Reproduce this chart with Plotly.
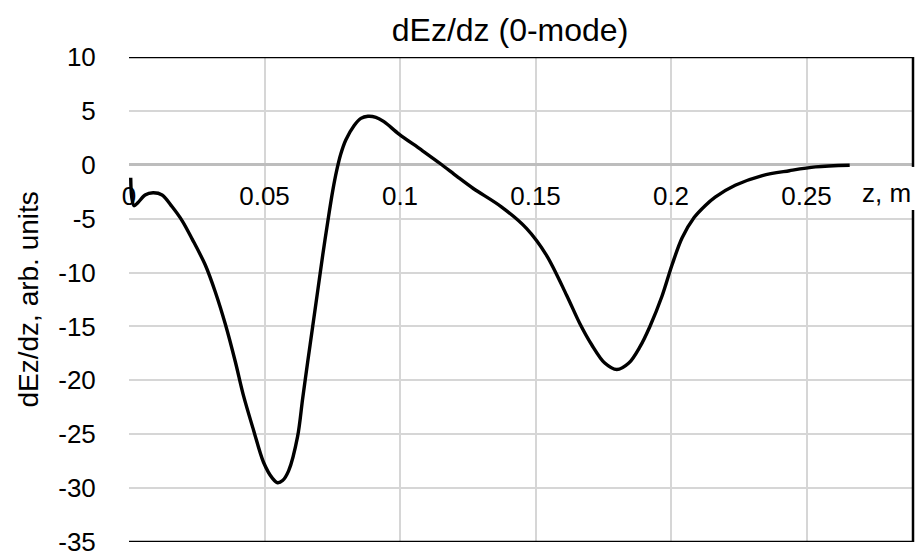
import plotly.graph_objects as go

# Longitudinal position along the structure, m
z_m = [0.00063, 0.0010, 0.00185, 0.00333, 0.00593, 0.00889, 0.01222, 0.01593,
       0.01963, 0.02333, 0.02815, 0.03185, 0.03556, 0.03926, 0.04222, 0.04593,
       0.04963, 0.05296, 0.05481, 0.05667, 0.05889, 0.06222, 0.06407, 0.06593,
       0.06778, 0.06963, 0.07148, 0.07333, 0.07519, 0.07667, 0.07815, 0.08000,
       0.08296, 0.08556, 0.08815, 0.09111, 0.09407, 0.09963, 0.10778, 0.11519,
       0.12111, 0.12704, 0.13741, 0.14667, 0.15407, 0.16148, 0.16630, 0.17074,
       0.17556, 0.18000, 0.18444, 0.18852, 0.19222, 0.19667, 0.20037, 0.20407,
       0.20852, 0.21259, 0.21630, 0.22370, 0.23370, 0.24370, 0.25333, 0.26593]

# Field derivative dEz/dz, arbitrary units
dEz_dz = [-1.2, -3.0, -3.8, -3.5, -2.8, -2.6, -2.8, -3.9,
          -5.2, -6.9, -9.3, -11.8, -14.8, -18.3, -21.4, -24.6,
          -27.6, -29.1, -29.5, -29.3, -28.4, -25.2, -21.7, -18.3,
          -15.0, -11.7, -8.4, -5.3, -2.4, -0.5, 1.0, 2.3,
          3.6, 4.3, 4.5, 4.4, 4.0, 2.85, 1.4, 0.05,
          -1.1, -2.2, -3.9, -5.9, -8.4, -12.1, -14.7, -16.7,
          -18.4, -19.0, -18.4, -16.9, -15.0, -12.2, -9.3, -6.8,
          -4.9, -3.8, -3.0, -1.9, -1.0, -0.55, -0.2, -0.05]

x_ticks = [0, 0.05, 0.1, 0.15, 0.2, 0.25]
x_tick_text = ["0", "0.05", "0.1", "0.15", "0.2", "0.25"]
y_ticks = [10, 5, 0, -5, -10, -15, -20, -25, -30, -35]
y_tick_text = ["10", "5", "0", "-5", "-10", "-15", "-20", "-25", "-30", "-35"]

X_MAX = 0.2893
Y_MIN, Y_MAX = -35, 10

FONT = "Liberation Sans, Arial, sans-serif"
GRID = "#d6d6d6"

fig = go.Figure()
fig.add_trace(go.Scatter(
    x=z_m, y=dEz_dz, mode="lines",
    line=dict(color="black", width=3.4, shape="spline", smoothing=0.9),
    hoverinfo="skip", showlegend=False,
))

fig.update_layout(
    width=919, height=556,
    margin=dict(l=129, r=6, t=57, b=14),
    paper_bgcolor="white", plot_bgcolor="white",
    font=dict(family=FONT, size=26, color="black"),
    title=dict(text="dEz/dz (0-mode)", x=0.555, xanchor="center",
               y=0.947, yanchor="middle",
               font=dict(family=FONT, size=32, color="black")),
    xaxis=dict(
        range=[0, X_MAX], tickvals=x_ticks, ticktext=x_tick_text,
        showgrid=True, gridcolor=GRID, gridwidth=1.5,
        zeroline=False, showline=False, automargin=False,
        anchor="free", position=(0 - Y_MIN) / (Y_MAX - Y_MIN),
        ticks="outside", ticklen=8, tickcolor="rgba(0,0,0,0)",
        tickfont=dict(family=FONT, size=26, color="black"),
    ),
    yaxis=dict(
        range=[Y_MIN, Y_MAX], tickvals=y_ticks, ticktext=y_tick_text,
        showgrid=True, gridcolor=GRID, gridwidth=1.5,
        zeroline=True, zerolinecolor="#bdbdbd", zerolinewidth=2.5,
        showline=False, ticklabeloverflow="allow", automargin=False,
        ticks="outside", ticklen=27, tickcolor="rgba(0,0,0,0)",
        tickfont=dict(family=FONT, size=26, color="black"),
    ),
)

# Vertical axis title
fig.add_annotation(text="dEz/dz, arb. units", xref="paper", yref="paper",
                   x=-0.1288, y=0.5, xanchor="center", yanchor="middle",
                   textangle=-90, showarrow=False,
                   font=dict(family=FONT, size=28, color="black"))

# Black frame: top, bottom and right edge (the right edge is broken by the axis label)
frame = dict(color="black", width=2.5)
fig.add_shape(type="line", xref="x domain", yref="y", x0=0, x1=1, y0=Y_MAX, y1=Y_MAX, line=frame)
fig.add_shape(type="line", xref="x domain", yref="y", x0=0, x1=1, y0=Y_MIN, y1=Y_MIN, line=frame)
fig.add_shape(type="line", xref="x domain", yref="y", x0=1, x1=1, y0=Y_MAX, y1=-0.2, line=frame)
fig.add_shape(type="line", xref="x domain", yref="y", x0=1, x1=1, y0=-4.2, y1=Y_MIN, line=frame)

fig.add_annotation(text="z, m", xref="x domain", yref="y", x=1.0, y=-2.6,
                   xanchor="right", yanchor="middle", showarrow=False,
                   font=dict(family=FONT, size=26, color="black"))

fig.write_html("out.html")
